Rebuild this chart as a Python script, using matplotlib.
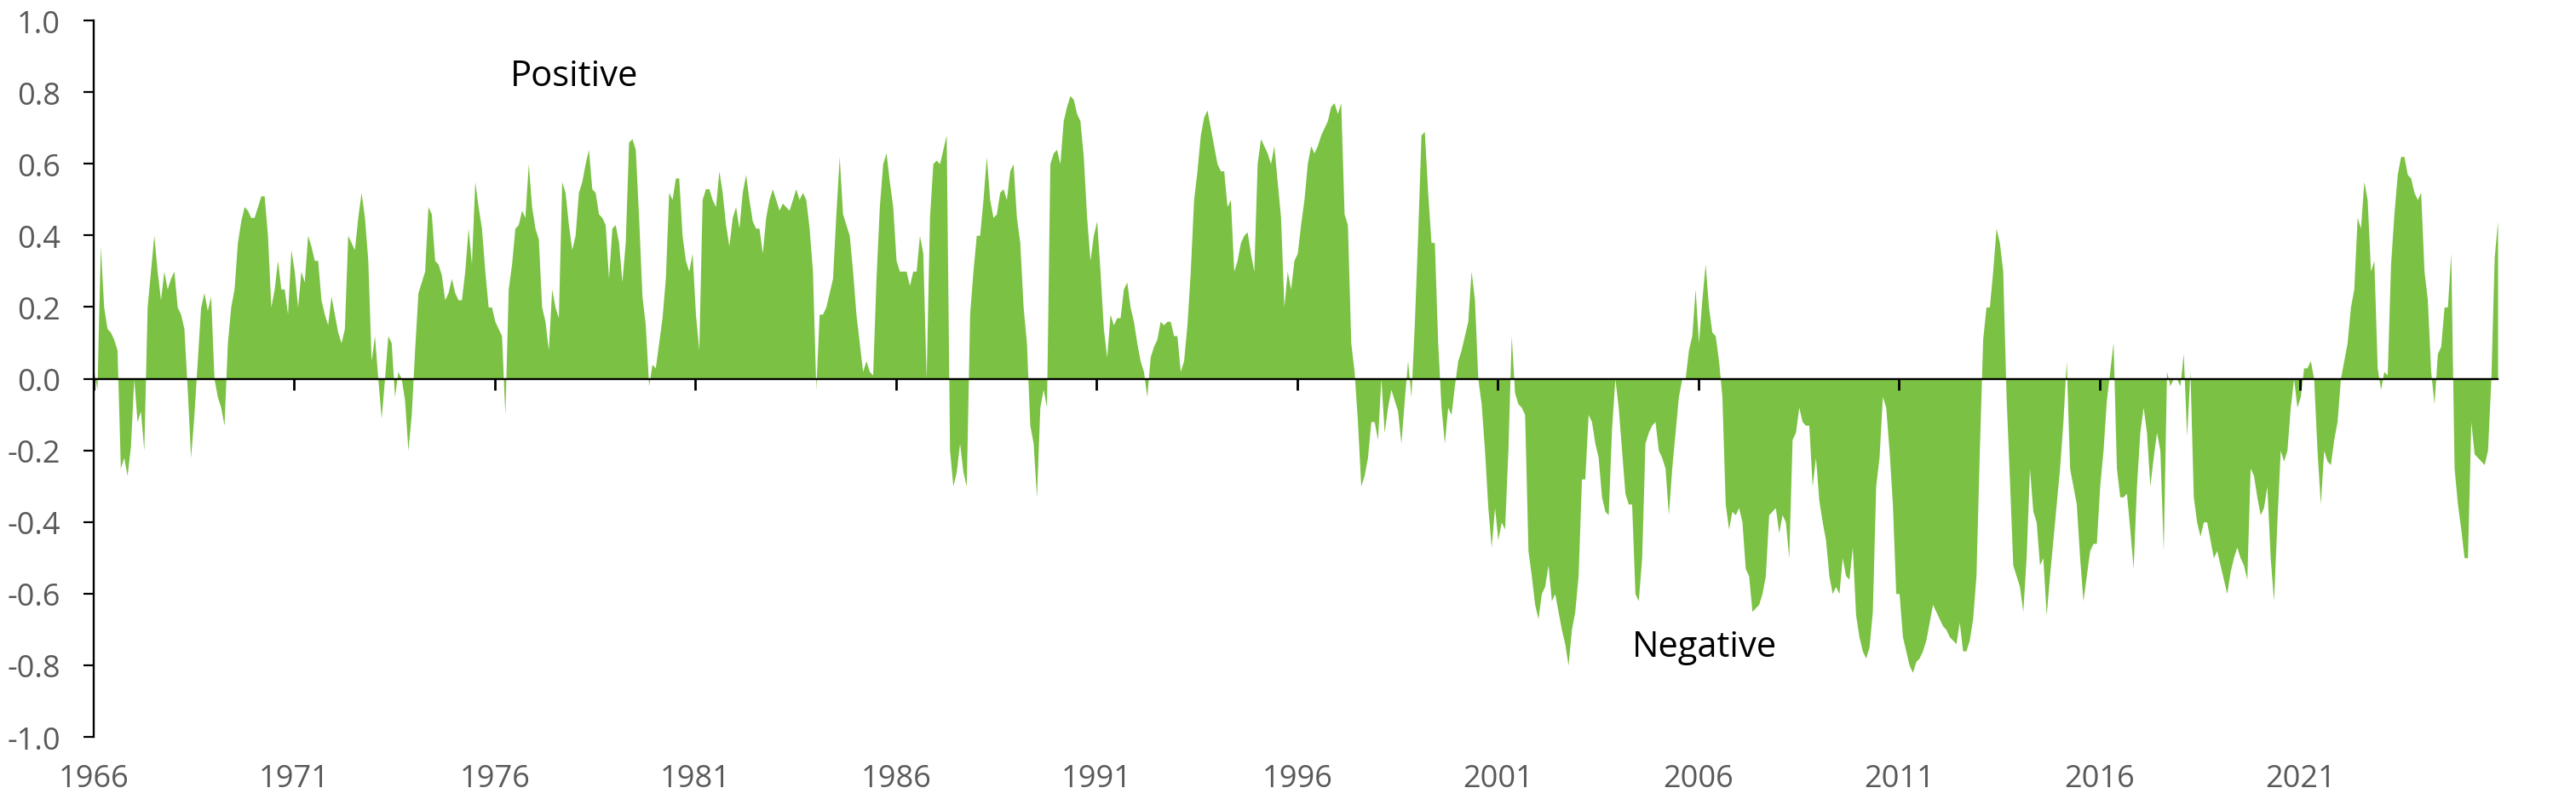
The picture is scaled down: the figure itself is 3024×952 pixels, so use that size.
import numpy as np
import matplotlib
matplotlib.use("Agg")
import matplotlib.pyplot as plt
from matplotlib.ticker import FormatStrFormatter, FixedLocator

plt.rcParams['font.family'] = ['Open Sans', 'DejaVu Sans']
plt.rcParams['axes.unicode_minus'] = False

# monthly rolling correlation, one list per decade
corr_1966_1975 = [
    0.02, -0.03, 0.37, 0.2, 0.14, 0.13, 0.11, 0.08, -0.25, -0.22, -0.27, -0.19,
    0.0, -0.12, -0.09, -0.2, 0.2, 0.3, 0.4, 0.3, 0.22, 0.3, 0.25, 0.28,
    0.3, 0.2, 0.18, 0.14, -0.03, -0.22, -0.1, 0.05, 0.2, 0.24, 0.19, 0.23,
    0.0, -0.05, -0.08, -0.13, 0.1, 0.2, 0.25, 0.38, 0.44, 0.48, 0.47, 0.45,
    0.45, 0.48, 0.51, 0.51, 0.4, 0.2, 0.25, 0.33, 0.25, 0.25, 0.18, 0.36,
    0.3, 0.2, 0.3, 0.27, 0.4, 0.37, 0.33, 0.33, 0.22, 0.18, 0.15, 0.23,
    0.18, 0.13, 0.1, 0.14, 0.4, 0.38, 0.36, 0.45, 0.52, 0.45, 0.33, 0.05,
    0.12, 0.0, -0.11, 0.0, 0.12, 0.1, -0.05, 0.02, 0.0, -0.06, -0.2, -0.1,
    0.08, 0.24, 0.27, 0.3, 0.48, 0.46, 0.33, 0.32, 0.29, 0.22, 0.24, 0.28,
    0.24, 0.22, 0.22, 0.3, 0.42, 0.32, 0.55, 0.48, 0.42, 0.3, 0.2, 0.2,
]
corr_1976_1985 = [
    0.16, 0.14, 0.12, -0.1, 0.25, 0.32, 0.42, 0.43, 0.47, 0.45, 0.6, 0.48,
    0.42, 0.39, 0.2, 0.16, 0.08, 0.25, 0.2, 0.17, 0.55, 0.52, 0.43, 0.36,
    0.4, 0.52, 0.55, 0.6, 0.64, 0.53, 0.52, 0.46, 0.45, 0.43, 0.28, 0.42,
    0.43, 0.38, 0.27, 0.38, 0.66, 0.67, 0.64, 0.45, 0.23, 0.15, -0.02, 0.04,
    0.03, 0.1, 0.17, 0.28, 0.52, 0.5, 0.56, 0.56, 0.4, 0.33, 0.3, 0.35,
    0.18, 0.08, 0.5, 0.53, 0.53, 0.5, 0.48, 0.58, 0.52, 0.43, 0.37, 0.45,
    0.48, 0.42, 0.52, 0.57, 0.5, 0.44, 0.42, 0.42, 0.35, 0.45, 0.5, 0.53,
    0.5, 0.47, 0.49, 0.48, 0.47, 0.5, 0.53, 0.5, 0.52, 0.5, 0.42, 0.3,
    -0.03, 0.18, 0.18, 0.2, 0.24, 0.28, 0.46, 0.62, 0.46, 0.43, 0.4, 0.3,
    0.18, 0.1, 0.02, 0.05, 0.02, 0.01, 0.28, 0.48, 0.6, 0.63, 0.55, 0.48,
]
corr_1986_1995 = [
    0.33, 0.3, 0.3, 0.3, 0.26, 0.3, 0.3, 0.4, 0.35, 0.0, 0.45, 0.6,
    0.61, 0.6, 0.64, 0.68, -0.2, -0.3, -0.26, -0.18, -0.26, -0.3, 0.18, 0.3,
    0.4, 0.4, 0.5, 0.62, 0.5, 0.45, 0.46, 0.52, 0.53, 0.5, 0.58, 0.6,
    0.45, 0.38, 0.2, 0.1, -0.13, -0.18, -0.33, -0.08, -0.03, -0.08, 0.6, 0.63,
    0.64, 0.6, 0.72, 0.76, 0.79, 0.78, 0.74, 0.72, 0.62, 0.45, 0.33, 0.4,
    0.44, 0.3, 0.14, 0.06, 0.18, 0.15, 0.17, 0.17, 0.25, 0.27, 0.2, 0.16,
    0.1, 0.05, 0.02, -0.05, 0.06, 0.09, 0.11, 0.16, 0.15, 0.16, 0.16, 0.12,
    0.12, 0.02, 0.05, 0.15, 0.3, 0.5, 0.58, 0.68, 0.73, 0.75, 0.7, 0.65,
    0.6, 0.58, 0.58, 0.48, 0.5, 0.3, 0.33, 0.38, 0.4, 0.41, 0.35, 0.3,
    0.6, 0.67, 0.65, 0.63, 0.6, 0.65, 0.55, 0.45, 0.2, 0.3, 0.25, 0.33,
]
corr_1996_2005 = [
    0.35, 0.43, 0.5, 0.6, 0.65, 0.63, 0.65, 0.68, 0.7, 0.72, 0.76, 0.77,
    0.74, 0.77, 0.46, 0.43, 0.1, 0.02, -0.12, -0.3, -0.27, -0.22, -0.12, -0.12,
    -0.17, 0.0, -0.15, -0.08, -0.03, -0.06, -0.09, -0.18, -0.06, 0.05, -0.05, 0.15,
    0.4, 0.68, 0.69, 0.52, 0.38, 0.38, 0.1, -0.08, -0.18, -0.08, -0.1, -0.02,
    0.05, 0.08, 0.12, 0.16, 0.3, 0.22, 0.0, -0.07, -0.2, -0.36, -0.47, -0.36,
    -0.45, -0.4, -0.42, -0.2, 0.12, -0.04, -0.07, -0.08, -0.1, -0.48, -0.55, -0.63,
    -0.67, -0.6, -0.58, -0.52, -0.62, -0.6, -0.65, -0.7, -0.74, -0.8, -0.7, -0.65,
    -0.55, -0.28, -0.28, -0.1, -0.12, -0.18, -0.22, -0.33, -0.37, -0.38, -0.14, 0.0,
    -0.08, -0.2, -0.32, -0.35, -0.35, -0.6, -0.62, -0.5, -0.18, -0.15, -0.13, -0.12,
    -0.2, -0.22, -0.25, -0.38, -0.25, -0.15, -0.05, 0.0, 0.0, 0.08, 0.12, 0.25,
]
corr_2006_2015 = [
    0.1, 0.22, 0.32, 0.2, 0.13, 0.12, 0.05, -0.05, -0.35, -0.42, -0.37, -0.38,
    -0.36, -0.4, -0.53, -0.55, -0.65, -0.64, -0.63, -0.6, -0.55, -0.38, -0.37, -0.36,
    -0.43, -0.38, -0.4, -0.5, -0.17, -0.15, -0.08, -0.12, -0.13, -0.13, -0.3, -0.22,
    -0.34, -0.4, -0.45, -0.55, -0.6, -0.58, -0.6, -0.5, -0.55, -0.56, -0.47, -0.66,
    -0.72, -0.76, -0.78, -0.75, -0.65, -0.3, -0.22, -0.05, -0.08, -0.2, -0.35, -0.6,
    -0.6, -0.72, -0.76, -0.8, -0.82, -0.79, -0.78, -0.76, -0.73, -0.68, -0.63, -0.65,
    -0.67, -0.69, -0.7, -0.72, -0.73, -0.74, -0.68, -0.76, -0.76, -0.73, -0.67, -0.55,
    -0.2, 0.11, 0.2, 0.2, 0.3, 0.42, 0.38, 0.3, -0.05, -0.28, -0.52, -0.55,
    -0.58, -0.65, -0.5, -0.25, -0.37, -0.4, -0.52, -0.5, -0.66, -0.55, -0.45, -0.35,
    -0.25, -0.12, 0.05, -0.25, -0.3, -0.35, -0.5, -0.62, -0.55, -0.48, -0.46, -0.46,
]
corr_2016_2025 = [
    -0.3, -0.2, -0.06, 0.02, 0.1, -0.25, -0.33, -0.33, -0.32, -0.42, -0.53, -0.3,
    -0.15, -0.08, -0.15, -0.3, -0.22, -0.15, -0.2, -0.48, 0.02, -0.02, 0.0, 0.0,
    -0.02, 0.07, -0.16, 0.02, -0.33, -0.4, -0.44, -0.4, -0.4, -0.45, -0.5, -0.48,
    -0.52, -0.56, -0.6, -0.54, -0.5, -0.47, -0.5, -0.52, -0.56, -0.25, -0.27, -0.33,
    -0.38, -0.36, -0.3, -0.5, -0.62, -0.4, -0.2, -0.23, -0.2, -0.08, 0.0, -0.08,
    -0.05, 0.03, 0.03, 0.05, 0.0, -0.2, -0.35, -0.2, -0.23, -0.24, -0.17, -0.12,
    0.0, 0.05, 0.1, 0.2, 0.25, 0.45, 0.42, 0.55, 0.5, 0.3, 0.33, 0.03,
    -0.03, 0.02, 0.01, 0.32, 0.46, 0.57, 0.62, 0.62, 0.57, 0.56, 0.52, 0.5,
    0.52, 0.3, 0.22, 0.02, -0.07, 0.07, 0.09, 0.2, 0.2, 0.35, -0.25, -0.35,
    -0.42, -0.5, -0.5, -0.12, -0.21, -0.22, -0.23, -0.24, -0.2, 0.0, 0.34, 0.44,
]

start_year = 1966
tick_years = np.arange(1966, 2022, 5)
y_ticks = np.linspace(-1.0, 1.0, 11).round(1) + 0.0

corr = np.concatenate([corr_1966_1975, corr_1976_1985, corr_1986_1995,
                       corr_1996_2005, corr_2006_2015, corr_2016_2025])
years = start_year + np.arange(corr.size) / 12

green = '#7bc143'
grey = '#595959'

fig = plt.figure(figsize=(30.24, 9.53), dpi=100)
ax = fig.add_axes([110 / 3024, 1 - 866 / 953, 2822 / 3024, 841 / 953])

ax.fill_between(years, 0, corr, color=green, linewidth=0)

ax.set_xlim(years[0], years[-1])
ax.set_ylim(-1, 1)

for side in ['top', 'right']:
    ax.spines[side].set_visible(False)
ax.spines['left'].set_linewidth(1.7)
ax.spines['bottom'].set_position(('data', 0))
ax.spines['bottom'].set_linewidth(1.7)

ax.yaxis.set_major_locator(FixedLocator(y_ticks))
ax.yaxis.set_major_formatter(FormatStrFormatter('%.1f'))
ax.tick_params(axis='y', direction='out', length=9, width=1.6, pad=19,
               labelsize=26, labelcolor=grey)

ax.xaxis.set_major_locator(FixedLocator(tick_years))
ax.tick_params(axis='x', direction='out', length=9, width=2, labelbottom=False)

# year labels sit along the bottom edge, not on the zero line
sec = ax.secondary_xaxis(0)
sec.xaxis.set_major_locator(FixedLocator(tick_years))
sec.xaxis.set_major_formatter(FormatStrFormatter('%d'))
sec.spines['bottom'].set_visible(False)
sec.tick_params(axis='x', length=0, pad=22, labelsize=26, labelcolor=grey)

ax.text(1977.98, 0.846, 'Positive', ha='center', va='center', fontsize=30, color='black')
ax.text(2006.14, -0.749, 'Negative', ha='center', va='center', fontsize=30, color='black')

fig.savefig('out.png', dpi=100)
